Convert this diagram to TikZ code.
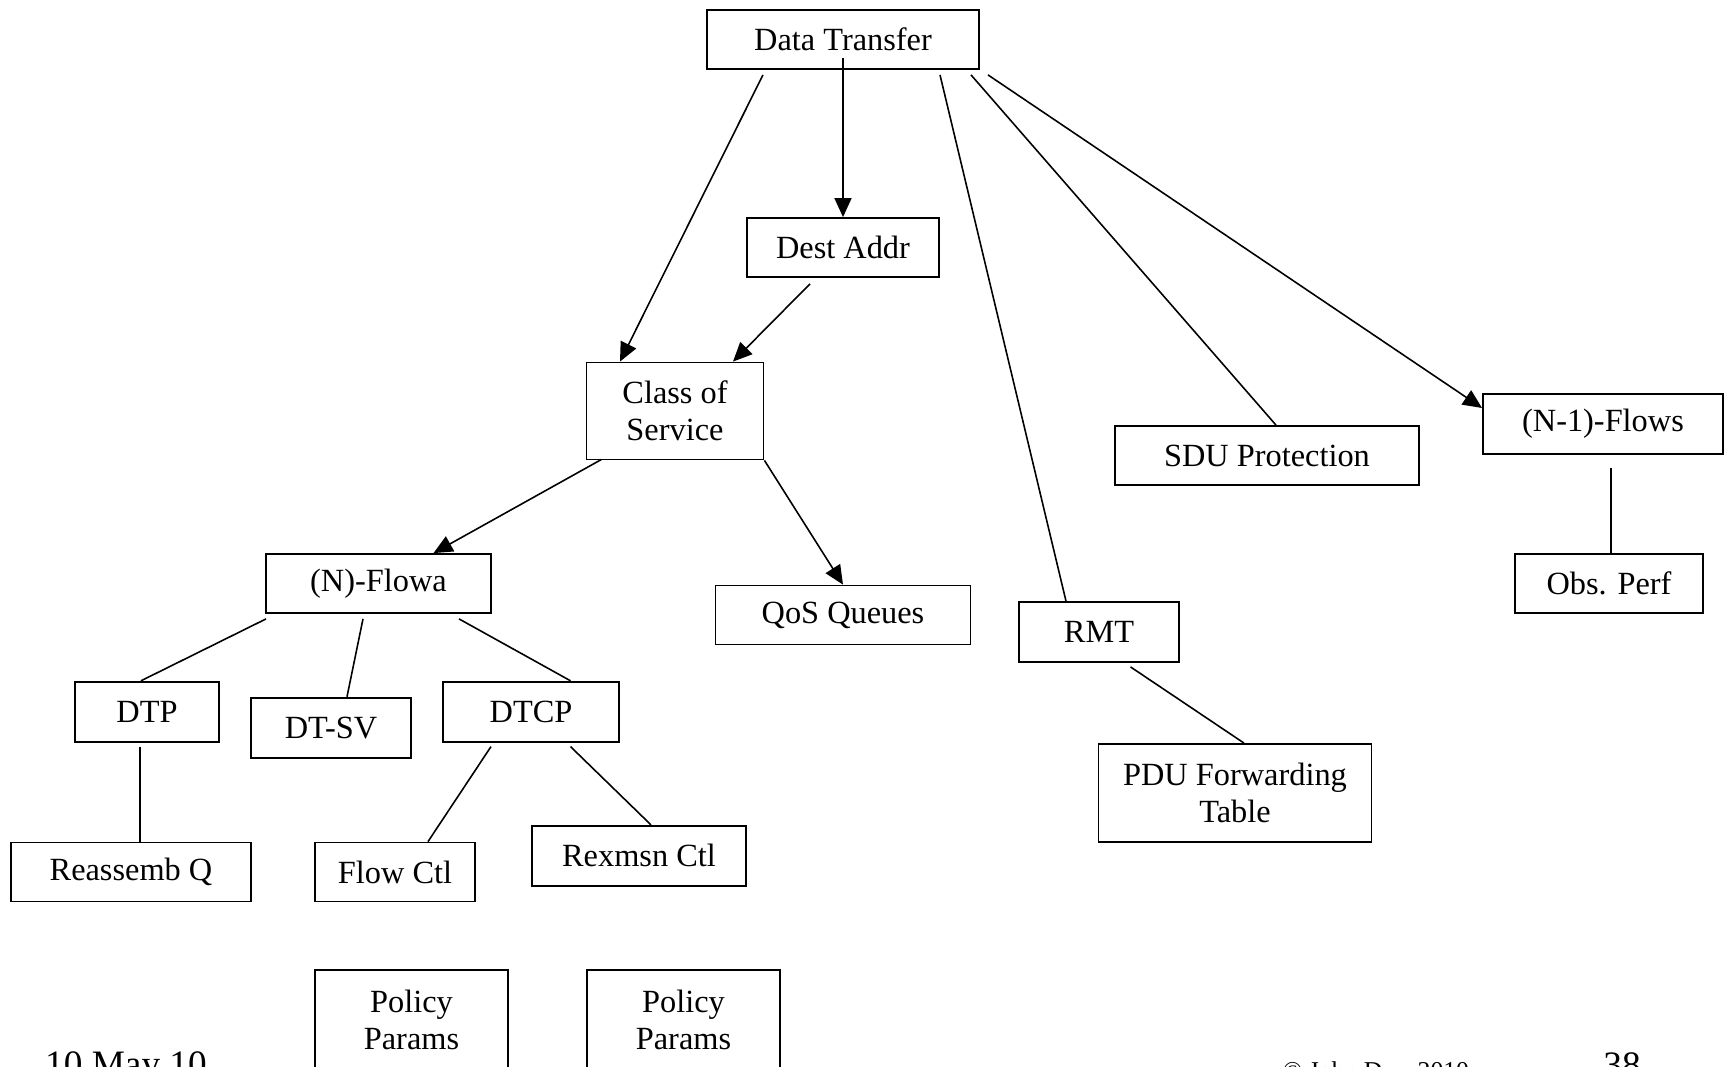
\documentclass[tikz,border=0pt]{standalone}
\usepackage{fontspec}
\setmainfont{Liberation Serif}
\usetikzlibrary{arrows.meta,calc}

\begin{document}
\begin{tikzpicture}
[
	              x = 0.01cm,
	              y = -0.01cm,
	             >= {Triangle[length=0.19cm,width=0.17cm]},
	      box/.style = { draw=black, line width=0.5pt, inner sep=0pt, align=center,
	                     font=\fontsize{9.2}{10.6}\selectfont },
	     link/.style = { draw=black, line width=0.45pt },
	     foot/.style = { inner sep=0pt, anchor=base }
]
	\useasboundingbox (0,0) rectangle (1726,1067);

	% top level
	% nodes
	\node  (DT) at (843,39.5)    [box, minimum width=2.72cm, minimum height=0.59cm] {Data Transfer};
	\node  (DA) at (843,247.5)   [box, minimum width=1.92cm, minimum height=0.59cm] {Dest Addr};
	\node (CoS) at (675,411)     [box, minimum width=1.77cm, minimum height=0.97cm] {Class of\\Service};
	\node (SDU) at (1267,455.5)  [box, minimum width=3.04cm, minimum height=0.59cm] {SDU Protection};
	\node (NM1) at (1603,424)    [box, minimum width=2.40cm, minimum height=0.60cm] {(N-1)-Flows};
	\node  (OP) at (1609,583.5)  [box, minimum width=1.88cm, minimum height=0.59cm] {Obs. Perf};
	\node (QoS) at (843,615)     [box, minimum width=2.55cm, minimum height=0.59cm] {QoS Queues};
	\node (RMT) at (1099,632)    [box, minimum width=1.60cm, minimum height=0.60cm] {RMT};
	\node (PDU) at (1235,793)    [box, minimum width=2.73cm, minimum height=0.98cm] {PDU Forwarding\\Table};

	% edges
	\draw [link, ->] ($(DT.south)+(-80,5)$) -- ($(CoS.north)+(-55,0)$);
	\draw [link, ->] ($(DT.center)+(0,18.5)$) -- (DA.north);
	\draw [link, ->] ($(DA.south)+(-33,6)$) -- ($(CoS.north)+(58,0)$);
	\draw [link]     ($(DT.south)+(97,5)$) -- ($(RMT.north)+(-33,0)$);
	\draw [link]     ($(DT.south)+(128,5)$) -- ($(SDU.north)+(9,0)$);
	\draw [link, ->] ($(DT.south east)+(8,5)$) -- ($(NM1.west)+(0,-16)$);
	\draw [link]     ($(NM1.south)+(8,13)$) -- ($(OP.north)+(2,0)$);
	\draw [link, ->] (CoS.south east) -- (QoS.north);
	\draw [link]     ($(RMT.south)+(31.5,4)$) -- ($(PDU.north)+(9,0)$);

	% flow part
	% nodes
	\node   (NF) at (378.5,583.5) [box, minimum width=2.25cm, minimum height=0.59cm] {(N)-Flowa};
	\node  (DTP) at (147,711.7)   [box, minimum width=1.44cm, minimum height=0.60cm] {DTP};
	\node (DTSV) at (331,727.7)   [box, minimum width=1.60cm, minimum height=0.60cm] {DT-SV};
	\node (DTCP) at (531,711.7)   [box, minimum width=1.76cm, minimum height=0.60cm] {DTCP};
	\node   (RQ) at (131,872)     [box, minimum width=2.40cm, minimum height=0.59cm] {Reassemb Q};
	\node   (FC) at (395,872)     [box, minimum width=1.60cm, minimum height=0.59cm] {Flow Ctl};
	\node   (RC) at (639,855.8)   [box, minimum width=2.14cm, minimum height=0.60cm] {Rexmsn Ctl};
	\node  (PP1) at (411.5,1020)  [box, minimum width=1.93cm, minimum height=1.00cm] {Policy\\Params};
	\node  (PP2) at (683.5,1020)  [box, minimum width=1.93cm, minimum height=1.00cm] {Policy\\Params};

	% edges
	\draw [link, ->] ($(CoS.south west)+(16,-1)$) -- ($(NF.north)+(55,0)$);
	\draw [link]     ($(NF.south west)+(1,5)$) -- ($(DTP.north)+(-6,0)$);
	\draw [link]     ($(NF.south)+(-15.5,5)$) -- ($(DTSV.north)+(16,0)$);
	\draw [link]     ($(NF.south)+(80.5,5)$) -- ($(DTCP.north)+(39.5,0)$);
	\draw [link]     ($(DTP.south)+(-7,4)$) -- ($(RQ.north)+(9,0)$);
	\draw [link]     ($(DTCP.south)+(-40,4)$) -- ($(FC.north)+(33,0)$);
	\draw [link]     ($(DTCP.south)+(39.5,4)$) -- ($(RC.north)+(12,0)$);

	% footer
	\node (date) at (126,1077)  [foot, font=\fontsize{10.6}{12}\selectfont] {10 May 10};
	\node (copy) at (1376,1080) [foot, font=\fontsize{7.3}{9}\selectfont] {© John Day, 2010};
	\node (page) at (1622,1078) [foot, font=\fontsize{10.6}{12}\selectfont] {38};
\end{tikzpicture}
\end{document}
